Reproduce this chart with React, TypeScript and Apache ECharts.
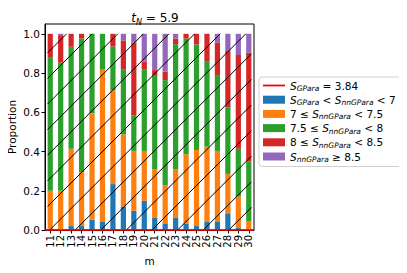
import React, { useEffect, useRef } from "react";
import * as echarts from "echarts";

const categories = ["11","12","13","14","15","16","17","18","19","20","21","22","23","24","25","26","27","28","29","30"];
const blueVals =   [0.007, 0, 0.02, 0.02, 0.053, 0.044, 0.234, 0.12, 0.098, 0.149, 0.064, 0.034, 0.064, 0.031, 0.02, 0.044, 0.044, 0.085, 0.01, 0];
const orangeVals = [0.193, 0.2, 0.394, 0.275, 0.542, 0.776, 0.478, 0.368, 0.305, 0.254, 0.246, 0.193, 0.246, 0.355, 0.388, 0.381, 0.359, 0.201, 0.161, 0.044];
const greenVals =  [0.678, 0.653, 0.52, 0.681, 0.405, 0.18, 0.223, 0.332, 0.18, 0.417, 0.476, 0.537, 0.637, 0.59, 0.538, 0.436, 0.383, 0.338, 0.243, 0.305];
const redVals =    [0.122, 0.14, 0.066, 0.024, 0, 0, 0.065, 0.146, 0.373, 0.038, 0.029, 0.043, 0.029, 0.024, 0.054, 0.139, 0.17, 0.288, 0.478, 0.556];
const purpleVals = [0, 0.007, 0, 0, 0, 0, 0, 0.034, 0.044, 0.142, 0.185, 0.193, 0.024, 0, 0, 0, 0.044, 0.088, 0.108, 0.095];
const yTicks = [0, 0.2, 0.4, 0.6, 0.8, 1.0];
const sGPara = 0; // reference line position (S_GPara = 3.84)

const FONT = "DejaVu Sans";

const legendRich: Record<string, string> = {
  sg: "{s|S}{sub|GPara}{n| = 3.84}",
  b1: "{s|S}{sub|GPara}{n| < }{s|S}{sub|nnGPara}{n| < 7}",
  b2: "{n|7 ≤ }{s|S}{sub|nnGPara}{n| < 7.5}",
  b3: "{n|7.5 ≤ }{s|S}{sub|nnGPara}{n| < 8}",
  b4: "{n|8 ≤ }{s|S}{sub|nnGPara}{n| < 8.5}",
  b5: "{s|S}{sub|nnGPara}{n| ≥ 8.5}",
};

export default function App() {
  const ref = useRef<HTMLDivElement>(null);
  useEffect(() => {
    if (!ref.current) return;
    const chart = echarts.init(ref.current, null, { renderer: "svg" });
    const barSeries = (name: string, data: number[], color: string) => ({
      name,
      type: "bar",
      stack: "a",
      barWidth: "50%",
      data,
      itemStyle: { color },
      z: 2,
    });
    const option: any = {
      animation: false,
      textStyle: { fontFamily: FONT },
      title: {
        text: "{t|t}{sub|N}{n| = 5.9}",
        left: 150,
        textAlign: "center",
        top: 5,
        textStyle: {
          fontWeight: "normal",
          rich: {
            t: { fontFamily: FONT, fontStyle: "italic", fontWeight: "normal", fontSize: 12, color: "#000", lineHeight: 16, verticalAlign: "middle" },
            sub: { fontFamily: FONT, fontStyle: "italic", fontWeight: "normal", fontSize: 8, color: "#000", lineHeight: 10, verticalAlign: "bottom" },
            n: { fontFamily: FONT, fontWeight: "normal", fontSize: 12, color: "#000", lineHeight: 16, verticalAlign: "middle" },
          },
        },
      },
      graphic: [
        {
          type: "text",
          x: 12,
          y: 127,
          rotation: Math.PI / 2,
          style: {
            text: "Proportion",
            fontFamily: FONT,
            fontSize: 10.5,
            fill: "#000",
            align: "center",
            verticalAlign: "middle",
          },
        },
      ],
      grid: {
        left: 45,
        top: 24,
        width: 209,
        height: 206,
        show: true,
        borderColor: "#000",
        borderWidth: 1,
        backgroundColor: "#fff",
        containLabel: false,
        outerBoundsMode: "none",
      },
      legend: {
        orient: "vertical",
        left: 259,
        top: 77,
        itemWidth: 22,
        itemHeight: 8,
        itemGap: 1.7,
        padding: [3, 6, 3, 4],
        borderColor: "#d0d0d0",
        borderWidth: 1,
        borderRadius: 3,
        symbolKeepAspect: true,
        data: [
          { name: "sg", icon: "path://M0,0L22,0L22,1.8L0,1.8Z", itemStyle: { color: "#ff0000" } },
          { name: "b1", icon: "rect" },
          { name: "b2", icon: "rect" },
          { name: "b3", icon: "rect" },
          { name: "b4", icon: "rect" },
          { name: "b5", icon: "rect" },
        ],
        formatter: (n: string) => legendRich[n] || n,
        textStyle: {
          rich: {
            s: { fontFamily: FONT, fontStyle: "italic", fontSize: 10.5, color: "#000", lineHeight: 14, verticalAlign: "middle" },
            sub: { fontFamily: FONT, fontStyle: "italic", fontSize: 7.5, color: "#000", lineHeight: 9, verticalAlign: "bottom" },
            n: { fontFamily: FONT, fontSize: 10.5, color: "#000", lineHeight: 14, verticalAlign: "middle" },
          },
        },
      },
      xAxis: {
        type: "category",
        data: categories,
        name: "m",
        nameLocation: "middle",
        nameGap: 22,
        nameTextStyle: { fontFamily: FONT, fontSize: 10.5, color: "#000" },
        axisLine: { show: true, lineStyle: { color: "#000", width: 1 } },
        axisTick: { show: true, alignWithLabel: true, length: 3.5, lineStyle: { color: "#000" } },
        axisLabel: { rotate: 90, fontFamily: FONT, fontSize: 10, color: "#000", margin: 5, interval: 0 },
        splitLine: { show: false },
      },
      yAxis: {
        type: "value",
        min: 0,
        max: 1.05,
        interval: 0.2,
        axisLine: { show: true, lineStyle: { color: "#000", width: 1 } },
        axisTick: { show: true, length: 3.5, lineStyle: { color: "#000" }, customValues: yTicks },
        axisLabel: {
          fontFamily: FONT,
          fontSize: 10.5,
          color: "#000",
          margin: 5,
          customValues: yTicks,
          formatter: (v: number) => v.toFixed(1),
        },
        splitLine: { show: false },
      },
      series: [
        barSeries("b1", blueVals, "#1f77b4"),
        barSeries("b2", orangeVals, "#ff7f0e"),
        barSeries("b3", greenVals, "#2ca02c"),
        barSeries("b4", redVals, "#d62728"),
        barSeries("b5", purpleVals, "#9467bd"),
        {
          name: "hatch",
          type: "custom",
          data: [[0, 0]],
          silent: true,
          clip: false,
          z: 3,
          renderItem: (params: any, api: any) => {
            const band = api.size([1, 0])[0];
            const bw = band * 0.5;
            const a = api.coord([0, 0]);
            const b = api.coord([categories.length - 1, 1]);
            const x0 = a[0] - bw / 2;
            const x1 = b[0] + bw / 2;
            const yB = a[1];
            const yT = b[1];
            const sp = 25.6;
            const base = x0 + 2 + yB;
            const children: any[] = [];
            for (let k = -20; k <= 20; k++) {
              const c = base + k * sp;
              const xs = Math.max(x0, c - yB);
              const xe = Math.min(x1, c - yT);
              if (xe - xs > 0.5) {
                children.push({
                  type: "line",
                  shape: { x1: xs, y1: c - xs, x2: xe, y2: c - xe },
                  style: { stroke: "#000", lineWidth: 1 },
                });
              }
            }
            return { type: "group", children };
          },
        },
        {
          name: "sg",
          type: "line",
          data: [],
          symbol: "none",
          showSymbol: false,
          itemStyle: { color: "#ff0000" },
          lineStyle: { color: "#ff0000", width: 1.5 },
          markLine: {
            silent: true,
            symbol: "none",
            label: { show: false },
            lineStyle: { color: "#ff0000", width: 1.5, type: "solid" },
            data: [{ yAxis: sGPara }],
            z: 5,
          },
          z: 5,
        },
      ],
    };
    chart.setOption(option);
    return () => chart.dispose();
  }, []);
  return <div ref={ref} style={{ width: 407, height: 273, margin: "-8px 0 0 -8px" }} />;
}
